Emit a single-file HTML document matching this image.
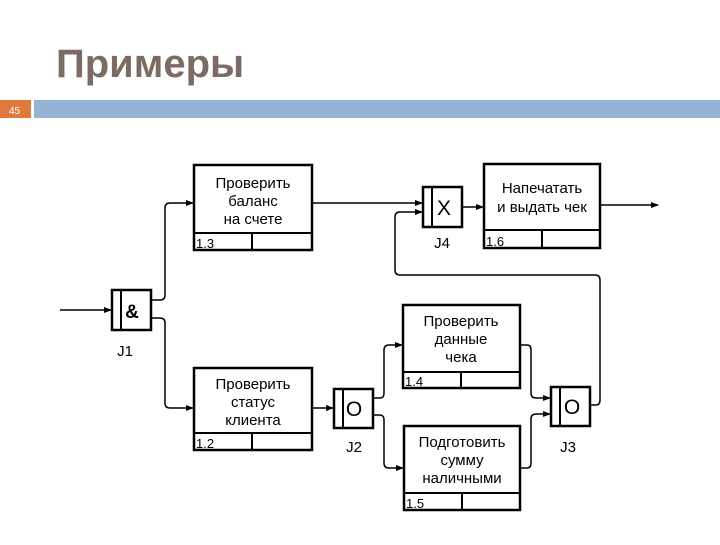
<!DOCTYPE html>
<html><head><meta charset="utf-8"><style>
body{margin:0;width:720px;height:540px;background:#fff;overflow:hidden;font-family:"Liberation Sans",sans-serif}
</style></head><body>
<svg width="720" height="540" xmlns="http://www.w3.org/2000/svg" font-family="Liberation Sans, sans-serif">
<defs><marker id="a" markerWidth="8" markerHeight="6" refX="7" refY="3" orient="auto" markerUnits="userSpaceOnUse"><path d="M0,0 L8,3 L0,6z" fill="#000"/></marker></defs>
<text x="56" y="77" font-size="40" font-weight="bold" fill="#7b6b63">Примеры</text>
<rect x="0" y="100" width="31" height="18" fill="#e07a3c"/>
<text x="9" y="114" font-size="10" fill="#fff">45</text>
<rect x="34" y="100" width="686" height="18" fill="#95b3d4"/>
<g fill="#fff" stroke="#000" stroke-width="2.5">
<rect x="194" y="165" width="118" height="85"/>
<rect x="194" y="368" width="118" height="82"/>
<rect x="403" y="305" width="117" height="83"/>
<rect x="404" y="426" width="116" height="84"/>
<rect x="484" y="164" width="116" height="84"/>
<rect x="112" y="290" width="39" height="40"/>
<rect x="334" y="389" width="39" height="39"/>
<rect x="551" y="387" width="39" height="39"/>
<rect x="423" y="187" width="39" height="40"/>
</g>
<g stroke="#000" stroke-width="2">
<line x1="194" y1="233" x2="312" y2="233"/><line x1="252" y1="233" x2="252" y2="250"/>
<line x1="194" y1="433" x2="312" y2="433"/><line x1="252" y1="433" x2="252" y2="450"/>
<line x1="403" y1="372" x2="520" y2="372"/><line x1="461" y1="372" x2="461" y2="388"/>
<line x1="404" y1="493" x2="520" y2="493"/><line x1="462" y1="493" x2="462" y2="510"/>
<line x1="484" y1="230" x2="600" y2="230"/><line x1="542" y1="230" x2="542" y2="248"/>
<line x1="121" y1="290" x2="121" y2="330"/>
<line x1="343" y1="389" x2="343" y2="428"/>
<line x1="560" y1="387" x2="560" y2="426"/>
<line x1="432" y1="187" x2="432" y2="227"/>
</g>
<g fill="none" stroke="#000" stroke-width="1.5" marker-end="url(#a)">
<path d="M60,310 H111"/>
<path d="M151,300 H160 Q165,300 165,295 V208 Q165,203 170,203 H193"/>
<path d="M151,318 H160 Q165,318 165,323 V403 Q165,408 170,408 H193"/>
<path d="M312,203 H422"/>
<path d="M312,408 H333"/>
<path d="M373,398 H380 Q384,398 384,393 V350 Q384,345 389,345 H402"/>
<path d="M373,415 H380 Q384,415 384,420 V463 Q384,468 389,468 H403"/>
<path d="M520,345 H527 Q531,345 531,350 V393 Q531,398 536,398 H550"/>
<path d="M520,468 H527 Q531,468 531,463 V419 Q531,414 536,414 H550"/>
<path d="M590,405 H596 Q600,405 600,400 V280 Q600,275 595,275 H400 Q395,275 395,270 V217 Q395,212 400,212 H422"/>
<path d="M462,207 H483"/>
<path d="M600,205 H658"/>
</g>
<g font-size="15" text-anchor="middle" fill="#000">
<text x="253" y="188">Проверить</text><text x="253" y="206">баланс</text><text x="253" y="224">на счете</text>
<text x="253" y="389">Проверить</text><text x="253" y="407">статус</text><text x="253" y="425">клиента</text>
<text x="461" y="326">Проверить</text><text x="461" y="344">данные</text><text x="461" y="362">чека</text>
<text x="462" y="447">Подготовить</text><text x="462" y="465">сумму</text><text x="462" y="483">наличными</text>
<text x="542" y="193">Напечатать</text><text x="542" y="212">и выдать чек</text>
<text x="132" y="318" font-size="19" font-weight="bold">&amp;</text>
<text x="354" y="416" font-size="21">O</text>
<text x="572" y="414" font-size="21">O</text>
<text x="444" y="215" font-size="21">X</text>
<text x="125" y="356">J1</text><text x="354" y="452">J2</text><text x="568" y="452">J3</text><text x="442" y="248">J4</text>
</g>
<g font-size="13" fill="#000">
<text x="196" y="248">1.3</text><text x="196" y="448">1.2</text><text x="405" y="386">1.4</text><text x="406" y="508">1.5</text><text x="486" y="246">1.6</text>
</g>
</svg>
</body></html>
